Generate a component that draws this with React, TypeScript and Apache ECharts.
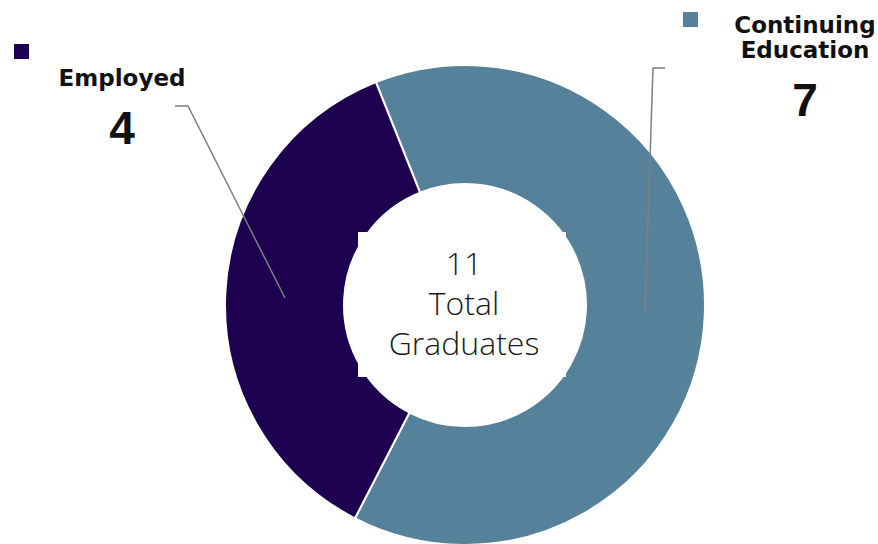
import React, { useEffect, useRef } from "react";
import * as echarts from "echarts";

const categories = ["Continuing Education", "Employed"];
const values = [7, 4];
const colors = ["#55829A", "#1E0050"];
const centerLines = ["11", "Total", "Graduates"];

// label placement (layout only)
const labelAnchors = [
  { x: 805, y: 12, line: [[645, 312], [653, 68], [665, 68]] },
  { x: 122, y: 65, line: [[285, 298], [188, 106], [175, 106]] },
];

export default function App() {
  const ref = useRef<HTMLDivElement>(null);
  useEffect(() => {
    document.body.style.margin = "0";
    const chart = echarts.init(ref.current!, null, { renderer: "svg" });
    const data = categories.map((name, i) => ({
      name,
      value: values[i],
      itemStyle: { color: colors[i] },
    }));
    const legendBase = {
      itemWidth: 15,
      itemHeight: 15,
      icon: "rect",
      padding: 0,
      itemStyle: { borderWidth: 0 },
      formatter: () => "",
      selectedMode: false,
    };
    chart.setOption({
      animation: false,
      backgroundColor: "#ffffff",
      legend: [
        { ...legendBase, data: [categories[1]], left: 14, top: 44 },
        { ...legendBase, data: [categories[0]], left: 683, top: 12 },
      ],
      series: [
        {
          type: "pie",
          center: [465, 305],
          radius: [121, 240],
          startAngle: 111.8,
          clockwise: true,
          data,
          itemStyle: { borderColor: "#ffffff", borderWidth: 2 },
          emphasis: { disabled: true },
          label: {
            show: true,
            position: "outside",
            overflow: "none",
            formatter: (p: any) =>
              p.name
                .split(" ")
                .map((w: string) => `{n|${w}}`)
                .join("\n") + `\n{v|${p.value}}`,
            rich: {
              n: {
                fontFamily: "DejaVu Sans",
                fontWeight: "bold",
                fontSize: 23,
                lineHeight: 25,
                color: "#111111",
                align: "center",
              },
              v: {
                fontFamily: "Liberation Sans",
                fontWeight: "bold",
                fontSize: 46,
                lineHeight: 76,
                color: "#111111",
                align: "center",
              },
            },
          },
          labelLine: { show: false },
          labelLayout: (params: any) => {
            const a = labelAnchors[params.dataIndex];
            return {
              x: a.x,
              y: a.y,
              align: "center",
              verticalAlign: "top",
            };
          },
        },
      ],
      graphic: [
        ...labelAnchors.map((a) => ({
          type: "polyline",
          shape: { points: a.line },
          style: { stroke: "#7F7F7F", lineWidth: 1.5, fill: null },
          z: 90,
        })),
        {
          type: "rect",
          shape: { x: 358, y: 232, width: 208, height: 145 },
          style: { fill: "#ffffff" },
          z: 100,
        },
        ...centerLines.map((t, i) => ({
          type: "text",
          x: 464,
          y: 262 + i * 40,
          z: 101,
          style: {
            text: t,
            fontFamily: "Open Sans",
            fontWeight: 300,
            fontSize: 32,
            fill: "#1a1a1a",
            align: "center",
            verticalAlign: "middle",
          },
        })),
      ],
    });
    return () => chart.dispose();
  }, []);
  return <div ref={ref} style={{ width: 878, height: 544 }} />;
}
